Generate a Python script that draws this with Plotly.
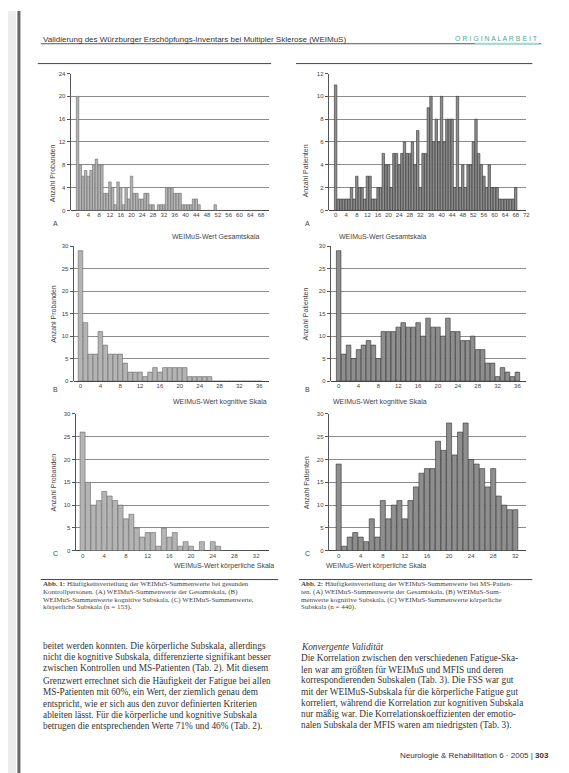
import plotly.graph_objects as go

W, H = 569, 773

# WEIMuS sum scores, counts per score value
healthy_total = [20, 8, 6, 7, 6, 7, 8, 9, 8, 8, 3, 3, 5, 4, 1, 5, 4, 1, 4, 2,
                 6, 3, 3, 2, 2, 3, 3, 1, 1, 0, 1, 1, 1, 4, 4, 4, 3, 3, 3, 1,
                 1, 1, 1, 2, 2, 1, 0, 0, 0, 0, 0, 1, 0, 0, 0, 0, 0, 0, 0, 0,
                 0, 0, 0, 0, 0, 0, 0, 0, 0]
ms_total = [11, 1, 1, 1, 1, 1, 2, 1, 3, 2, 2, 1, 3, 3, 1, 1, 2, 2, 5, 4,
            4, 2, 5, 5, 4, 5, 6, 5, 5, 6, 4, 7, 2, 5, 5, 9, 10, 6, 8, 6,
            10, 6, 8, 8, 8, 2, 10, 2, 4, 2, 4, 4, 6, 8, 5, 4, 3, 2, 4, 2,
            2, 2, 1, 1, 1, 1, 1, 1, 2]
healthy_cog = [29, 13, 6, 6, 11, 8, 6, 6, 6, 4, 2, 2, 2, 1, 2, 3, 2, 3, 3, 3,
               3, 3, 1, 1, 1, 1, 1, 0, 0, 0, 0, 0, 0, 0, 0, 0, 0]
ms_cog = [29, 6, 8, 5, 7, 8, 9, 8, 5, 11, 11, 11, 12, 13, 12, 12, 13, 10, 14, 12,
          12, 10, 14, 11, 11, 9, 9, 10, 7, 7, 4, 4, 1, 3, 2, 1, 2]
healthy_phys = [26, 15, 10, 11, 13, 12, 11, 10, 7, 8, 5, 3, 4, 4, 1, 5, 3, 4, 1, 2,
                1, 0, 2, 0, 2, 1, 0, 0, 0, 0, 0, 0, 0]
ms_phys = [19, 1, 3, 4, 3, 2, 7, 3, 11, 7, 10, 11, 7, 11, 14, 17, 18, 18, 24, 22,
           28, 21, 26, 28, 20, 19, 18, 14, 18, 12, 10, 9, 9]

x_titles = ["WEIMuS-Wert Gesamtskala", "WEIMuS-Wert Gesamtskala",
            "WEIMuS-Wert kognitive Skala", "WEIMuS-Wert kognitive Skala",
            "WEIMuS-Wert körperliche Skala", "WEIMuS-Wert körperliche Skala"]
y_titles = ["Anzahl Probanden", "Anzahl Patienten"]
letters = ["A", "A", "B", "B", "C", "C"]

caption_left = [
    "<b>Abb. 1:</b> Häufigkeitsverteilung der WEIMuS-Summenwerte bei gesunden",
    "Kontrollpersonen. (A) WEIMuS-Summenwerte der Gesamtskala, (B)",
    "WEIMuS-Summenwerte kognitive Subskala, (C) WEIMuS-Summenwerte,",
    "körperliche Subskala (n = 153).",
]
caption_right = [
    "<b>Abb. 2:</b> Häufigkeitsverteilung der WEIMuS-Summenwerte bei MS-Patien-",
    "ten. (A) WEIMuS-Summenwerte der Gesamtskala, (B) WEIMuS-Sum-",
    "menwerte kognitive Subskala, (C) WEIMuS-Summenwerte körperliche",
    "Subskala (n = 440).",
]
body_left = [
    "beitet werden konnten. Die körperliche Subskala, allerdings",
    "nicht die kognitive Subskala, differenzierte signifikant besser",
    "zwischen Kontrollen und MS-Patienten (Tab. 2). Mit diesem",
    "Grenzwert errechnet sich die Häufigkeit der Fatigue bei allen",
    "MS-Patienten mit 60%, ein Wert, der ziemlich genau dem",
    "entspricht, wie er sich aus den zuvor definierten Kriterien",
    "ableiten lässt. Für die körperliche und kognitive Subskala",
    "betrugen die entsprechenden Werte 71% und 46% (Tab. 2).",
]
body_right = [
    "Die Korrelation zwischen den verschiedenen Fatigue-Ska-",
    "len war am größten für WEIMuS und MFIS und deren",
    "korrespondierenden Subskalen (Tab. 3). Die FSS war gut",
    "mit der WEIMuS-Subskala für die körperliche Fatigue gut",
    "korreliert, während die Korrelation zur kognitiven Subskala",
    "nur mäßig war. Die Korrelationskoeffizienten der emotio-",
    "nalen Subskala der MFIS waren am niedrigsten (Tab. 3).",
]

# panel geometry in page pixels: x0, x1, y_top, y_base, x range, y max, y step, x step
panels = [
    (63, 263, 63, 201, [-2.6, 71], 24, 4, 4),
    (323, 522, 63, 201, [-2.6, 72], 12, 2, 4),
    (66, 263, 237, 373, [-1.4, 38], 30, 5, 4),
    (325, 522, 237, 373, [-1.6, 37.8], 30, 5, 4),
    (68, 263, 406, 544, [-1.3, 34.4], 30, 5, 4),
    (323, 522, 406, 544, [-1.8, 34], 30, 5, 4),
]
series = [healthy_total, ms_total, healthy_cog, ms_cog, healthy_phys, ms_phys]

SANS = "Liberation Sans, Arial, sans-serif"
NARROW = "Liberation Sans Narrow, Liberation Sans, sans-serif"
SERIF = "Liberation Serif, Times New Roman, serif"


def px(x):
    return x / W


def py(y):
    return 1 - y / H


fig = go.Figure()
annotations = []
shapes = []

for i, (vals, p) in enumerate(zip(series, panels)):
    x0, x1, yt, yb, xr, ymax, ystep, xstep = p
    n = str(i + 1) if i else ""
    healthy = i % 2 == 0
    fig.add_trace(go.Bar(
        x=list(range(len(vals))), y=vals,
        xaxis="x" + n, yaxis="y" + n,
        marker=dict(color="#b4b4b4" if healthy else "#8e8e8e",
                    line=dict(color="#6a6a6a" if healthy else "#333333", width=0.6)),
        showlegend=False,
    ))
    fig.update_layout(**{
        "xaxis" + n: dict(
            domain=[px(x0), px(x1)], range=xr, anchor="y" + n,
            tickmode="linear", tick0=0, dtick=xstep, showgrid=False,
            zeroline=False, showline=False, ticks="",
            tickfont=dict(family=SANS, size=6, color="#444"),
        ),
        "yaxis" + n: dict(
            domain=[py(yb), py(yt)], range=[0, ymax], anchor="x" + n,
            tickmode="linear", tick0=0, dtick=ystep,
            showgrid=True, gridcolor="#8c8c8c", gridwidth=0.8,
            zeroline=True, zerolinecolor="#444", zerolinewidth=1,
            showline=True, linecolor="#555", linewidth=1,
            ticks="outside", ticklen=3, tickcolor="#555",
            tickfont=dict(family=SANS, size=6, color="#444"),
        ),
    })
    left = i % 2 == 0
    annotations.append(dict(
        x=px((x0 + x1) / 2), y=py(yb + 21), xref="paper", yref="paper",
        text=x_titles[i], showarrow=False,
        font=dict(family=SANS, size=7, color="#444"),
    ))
    annotations.append(dict(
        x=px(40 if left else 300), y=py((yt + yb) / 2), xref="paper", yref="paper",
        text=y_titles[0 if left else 1], textangle=-90, showarrow=False,
        font=dict(family=SANS, size=7, color="#444"),
    ))
    annotations.append(dict(
        x=px(43 if left else 302), y=py(yb + 8), xref="paper", yref="paper",
        text=letters[i], showarrow=False,
        font=dict(family=SANS, size=7, color="#444"),
    ))

# running header
annotations.append(dict(
    x=px(33), y=py(22), xref="paper", yref="paper", xanchor="left",
    text="Validierung des Würzburger Erschöpfungs-Inventars bei Multipler Sklerose (WEIMuS)",
    showarrow=False, font=dict(family=NARROW, size=8, color="#333"),
))
annotations.append(dict(
    x=px(536), y=py(22), xref="paper", yref="paper", xanchor="right",
    text="O R I G I N A L A R B E I T", showarrow=False,
    font=dict(family=SANS, size=7, color="#4fa89b"),
))

# captions
for k, line in enumerate(caption_left):
    annotations.append(dict(
        x=px(33), y=py(584 + 7.6 * k), xref="paper", yref="paper", xanchor="left",
        text=line, showarrow=False, font=dict(family=SERIF, size=7, color="#444"),
    ))
for k, line in enumerate(caption_right):
    annotations.append(dict(
        x=px(293), y=py(584 + 7.6 * k), xref="paper", yref="paper", xanchor="left",
        text=line, showarrow=False, font=dict(family=SERIF, size=7, color="#444"),
    ))

# body text
for k, line in enumerate(body_left):
    annotations.append(dict(
        x=px(33), y=py(647 + 11.6 * k), xref="paper", yref="paper", xanchor="left",
        text=line, showarrow=False, font=dict(family=SERIF, size=9.3, color="#333"),
    ))
annotations.append(dict(
    x=px(293), y=py(648), xref="paper", yref="paper", xanchor="left",
    text="<i>Konvergente Validität</i>", showarrow=False,
    font=dict(family=SERIF, size=9.3, color="#333"),
))
for k, line in enumerate(body_right):
    annotations.append(dict(
        x=px(293), y=py(659.5 + 11.3 * k), xref="paper", yref="paper", xanchor="left",
        text=line, showarrow=False, font=dict(family=SERIF, size=9.3, color="#333"),
    ))

# footer
annotations.append(dict(
    x=px(547), y=py(757), xref="paper", yref="paper", xanchor="right",
    text="Neurologie & Rehabilitation 6 · 2005 | <b>303</b>", showarrow=False,
    font=dict(family=NARROW, size=8, color="#333"),
))

# rules and page edge
rules = [
    (33, 537, 33, "#555", 1), (470, 535, 33, "#a9d8d0", 2),
    (30, 265, 53, "#444", 1), (290, 528, 53, "#444", 1),
    (33, 272, 573, "#444", 1), (293, 528, 573, "#444", 1),
]
for xa, xb, yy, col, wd in rules:
    shapes.append(dict(type="line", xref="paper", yref="paper",
                       x0=px(xa), x1=px(xb), y0=py(yy), y1=py(yy),
                       line=dict(color=col, width=wd)))
shapes.append(dict(type="rect", xref="paper", yref="paper", x0=0, x1=px(8),
                   y0=0, y1=1, fillcolor="#ececec", line=dict(width=0), layer="below"))
shapes.append(dict(type="line", xref="paper", yref="paper", x0=px(11), x1=px(11),
                   y0=0, y1=1, line=dict(color="#666", width=3)))

fig.update_layout(
    width=W, height=H,
    margin=dict(l=0, r=0, t=0, b=0),
    paper_bgcolor="white", plot_bgcolor="white",
    bargap=0.08, showlegend=False,
    annotations=annotations, shapes=shapes,
)

fig.write_html("out.html")
